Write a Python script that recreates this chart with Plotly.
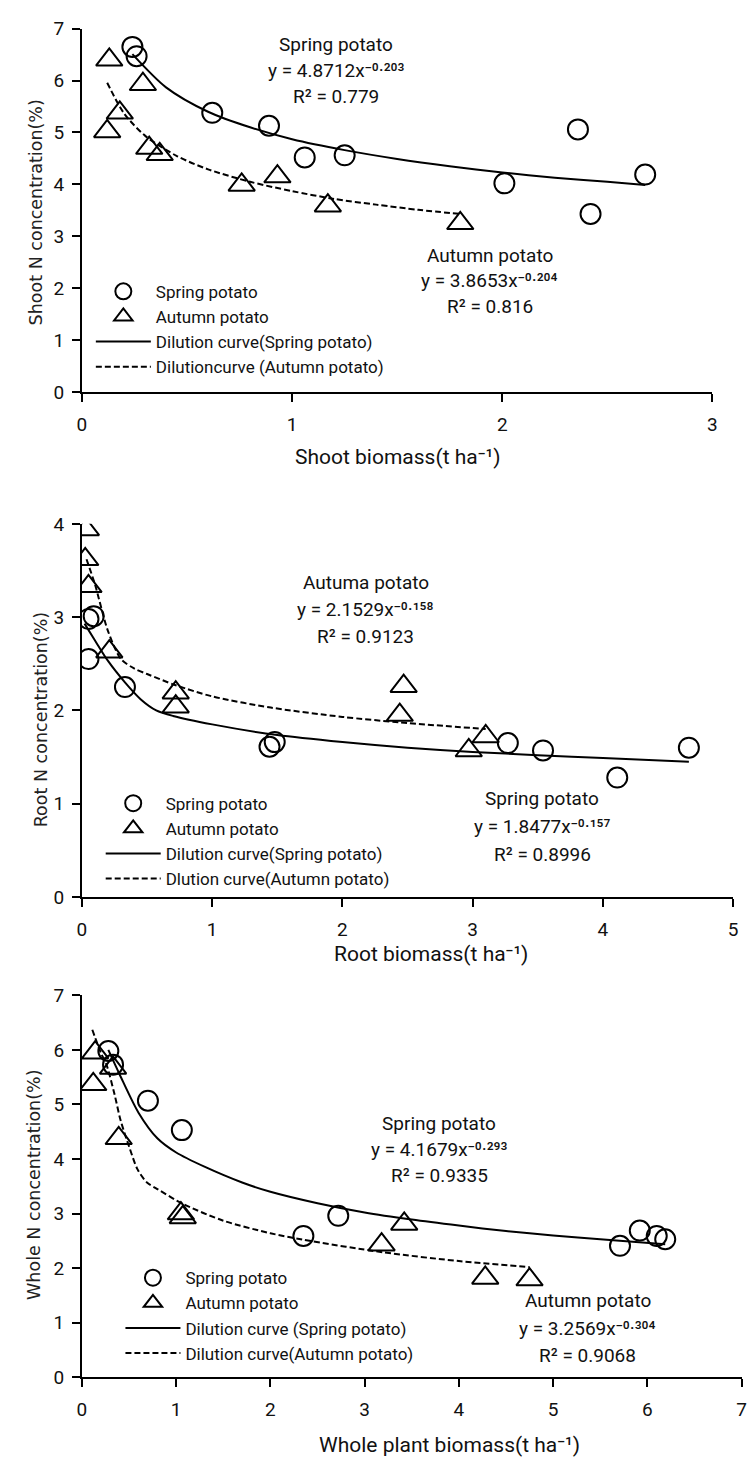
import plotly.graph_objects as go

W, H = 750, 1470

# ---------------- data ----------------
# Panel 1: shoot
shoot_spring_x = [0.24, 0.26, 0.62, 0.89, 1.06, 1.25, 2.36, 2.01, 2.42, 2.68]
shoot_spring_y = [6.65, 6.47, 5.38, 5.13, 4.52, 4.56, 5.06, 4.02, 3.43, 4.19]
shoot_autumn_x = [0.13, 0.29, 0.18, 0.12, 0.32, 0.37, 0.76, 0.93, 1.17, 1.80]
shoot_autumn_y = [6.40, 5.93, 5.38, 5.02, 4.70, 4.58, 3.99, 4.15, 3.59, 3.25]
shoot_fit_spring_x = [0.24, 0.4, 0.6, 0.8, 1.0, 1.25, 1.5, 1.75, 2.0, 2.25, 2.5, 2.68]
shoot_fit_spring_y = [6.51, 5.87, 5.40, 5.10, 4.87, 4.66, 4.49, 4.35, 4.23, 4.13, 4.05, 3.99]
shoot_fit_autumn_x = [0.12, 0.2, 0.3, 0.45, 0.6, 0.8, 1.0, 1.2, 1.4, 1.6, 1.8]
shoot_fit_autumn_y = [5.96, 5.37, 4.94, 4.55, 4.29, 4.05, 3.87, 3.72, 3.61, 3.51, 3.43]

# Panel 2: root
root_spring_x = [0.05, 0.05, 0.09, 0.33, 1.44, 1.48, 3.27, 3.54, 4.11, 4.66]
root_spring_y = [2.55, 2.98, 3.01, 2.25, 1.61, 1.66, 1.65, 1.57, 1.28, 1.60]
root_autumn_x = [0.03, 0.025, 0.05, 0.21, 0.72, 0.72, 2.47, 2.44, 2.97, 3.10]
root_autumn_y = [3.94, 3.62, 3.33, 2.63, 2.19, 2.04, 2.26, 1.95, 1.57, 1.72]
root_fit_spring_x = [0.02, 0.1, 0.2, 0.33, 0.45, 0.57, 0.7, 1.0, 1.5, 2.0, 2.5, 3.0, 3.5, 4.0, 4.66]
root_fit_spring_y = [2.93, 2.75, 2.53, 2.30, 2.12, 2.00, 1.94, 1.85, 1.735, 1.66, 1.60, 1.555, 1.52, 1.49, 1.45]
root_fit_autumn_x = [0.035, 0.1, 0.2, 0.3, 0.4, 0.5, 0.72, 1.0, 1.45, 2.0, 2.45, 3.1]
root_fit_autumn_y = [3.62, 3.35, 2.85, 2.55, 2.45, 2.39, 2.27, 2.15, 2.03, 1.93, 1.87, 1.80]

# Panel 3: whole plant
whole_spring_x = [0.28, 0.33, 0.70, 1.06, 2.35, 2.72, 5.71, 5.92, 6.10, 6.19]
whole_spring_y = [5.98, 5.73, 5.07, 4.53, 2.59, 2.96, 2.41, 2.69, 2.59, 2.53]
whole_autumn_x = [0.12, 0.14, 0.33, 0.39, 1.05, 1.07, 3.18, 3.42, 4.28, 4.75]
whole_autumn_y = [5.37, 5.95, 5.67, 4.38, 3.00, 2.93, 2.43, 2.81, 1.82, 1.79]
whole_fit_spring_x = [0.28, 0.4, 0.6, 0.8, 1.0, 1.3, 1.7, 2.0, 2.5, 3.0, 3.5, 4.0, 4.5, 5.0, 5.5, 6.19]
whole_fit_spring_y = [6.00, 5.55, 4.85, 4.38, 4.12, 3.86, 3.57, 3.40, 3.19, 3.02, 2.89, 2.78, 2.68, 2.60, 2.53, 2.44]
whole_fit_autumn_x = [0.11, 0.2, 0.26, 0.345, 0.41, 0.5, 0.59, 0.69, 0.8, 1.07, 1.5, 2.0, 2.35, 3.2, 4.0, 4.75]
whole_fit_autumn_y = [6.37, 5.95, 5.73, 5.19, 4.71, 4.23, 3.81, 3.57, 3.45, 3.18, 2.87, 2.64, 2.52, 2.29, 2.13, 2.02]

x_ticks = [[0, 1, 2, 3], [0, 1, 2, 3, 4, 5], [0, 1, 2, 3, 4, 5, 6, 7]]
y_ticks = [[0, 1, 2, 3, 4, 5, 6, 7], [0, 1, 2, 3, 4], [0, 1, 2, 3, 4, 5, 6, 7]]

x_titles = ["Shoot biomass(t ha\u207b\u00b9)", "Root biomass(t ha\u207b\u00b9)",
            "Whole plant biomass(t ha\u207b\u00b9)"]
y_titles = ["Shoot N concentration(%)", "Root N concentration(%)", "Whole N concentration(%)"]

legend_names = [
    ["Spring potato", "Autumn potato", "Dilution curve(Spring potato)", "Dilutioncurve (Autumn potato)"],
    ["Spring potato", "Autumn potato", "Dilution curve(Spring potato)", "Dlution curve(Autumn potato)"],
    ["Spring potato", "Autumn potato", "Dilution curve (Spring potato)", "Dilution curve(Autumn potato)"],
]

eq_labels = [
    [("Spring potato", "y = 4.8712x\u207b\u2070\u00b7\u00b2\u2070\u00b3", "R\u00b2 = 0.779", 1.21, 6.69),
     ("Autumn potato", "y = 3.8653x\u207b\u2070\u00b7\u00b2\u2070\u2074", "R\u00b2 = 0.816", 1.94, 2.63)],
    [("Autuma potato", "y = 2.1529x\u207b\u2070\u00b7\u00b9\u2075\u2078", "R\u00b2 = 0.9123", 2.18, 3.37),
     ("Spring potato", "y = 1.8477x\u207b\u2070\u00b7\u00b9\u2075\u2077", "R\u00b2 = 0.8996", 3.535, 1.05)],
    [("Spring potato", "y = 4.1679x\u207b\u2070\u00b7\u00b2\u2079\u00b3", "R\u00b2 = 0.9335", 3.79, 4.65),
     ("Autumn potato", "y = 3.2569x\u207b\u2070\u00b7\u00b3\u2070\u2074", "R\u00b2 = 0.9068", 5.37, 1.40)],
]
eq_line_gap = [(0.50, 0.49), (0.29, 0.295), (0.48, 0.50)]

panels = [
    (shoot_spring_x, shoot_spring_y, shoot_autumn_x, shoot_autumn_y,
     shoot_fit_spring_x, shoot_fit_spring_y, shoot_fit_autumn_x, shoot_fit_autumn_y),
    (root_spring_x, root_spring_y, root_autumn_x, root_autumn_y,
     root_fit_spring_x, root_fit_spring_y, root_fit_autumn_x, root_fit_autumn_y),
    (whole_spring_x, whole_spring_y, whole_autumn_x, whole_autumn_y,
     whole_fit_spring_x, whole_fit_spring_y, whole_fit_autumn_x, whole_fit_autumn_y),
]

# ---------------- layout geometry (pixels) ----------------
boxes = [(78, 717, 18, 387), (78, 738, 521, 900), (78, 746.5, 1000, 1388)]
ytitle_pos = [(31, 205), (36, 720), (30, 1193)]
xtitle_pos = [(398, 453), (432, 958), (450, 1457)]
legend_pos = [(87, 267), (97, 787), (117, 1269)]

TXT = "Roboto, Open Sans, sans-serif"
YT = "DejaVu Sans, Verdana, sans-serif"

fig = go.Figure()
layout = dict(width=W, height=H, margin=dict(l=0, r=0, t=0, b=0),
              paper_bgcolor="white", plot_bgcolor="white", showlegend=True)
annotations = []

for i, p in enumerate(panels):
    sx, sy, ax, ay, fsx, fsy, fax, fay = p
    xa = "x" if i == 0 else f"x{i+1}"
    ya = "y" if i == 0 else f"y{i+1}"
    lg = "legend" if i == 0 else f"legend{i+1}"
    names = legend_names[i]
    fig.add_trace(go.Scatter(x=sx, y=sy, mode="markers", name=names[0], xaxis=xa, yaxis=ya, legend=lg,
                             marker=dict(symbol="circle-open", size=20, color="black",
                                         line=dict(width=2, color="black"))))
    fig.add_trace(go.Scatter(x=ax, y=ay, mode="markers", name=names[1], xaxis=xa, yaxis=ya, legend=lg,
                             marker=dict(symbol="triangle-up-open", size=23, color="black",
                                         line=dict(width=2, color="black"))))
    fig.add_trace(go.Scatter(x=fsx, y=fsy, mode="lines", name=names[2], xaxis=xa, yaxis=ya, legend=lg,
                             line=dict(color="black", width=2, shape="spline", smoothing=0.8)))
    fig.add_trace(go.Scatter(x=fax, y=fay, mode="lines", name=names[3], xaxis=xa, yaxis=ya, legend=lg,
                             line=dict(color="black", width=2, dash="6px,3px", shape="spline", smoothing=0.8)))

    l, r, t, b = boxes[i]
    xk = "xaxis" if i == 0 else f"xaxis{i+1}"
    yk = "yaxis" if i == 0 else f"yaxis{i+1}"
    layout[xk] = dict(domain=[l / W, r / W], anchor=ya, range=[0, x_ticks[i][-1]], tickvals=x_ticks[i],
                      showline=True, linecolor="black", linewidth=2, ticks="outside", ticklen=8,
                      tickwidth=2, tickcolor="black", showgrid=False, zeroline=False,
                      ticklabelstandoff=6, tickfont=dict(family=TXT, size=19, color="#111"))
    layout[yk] = dict(domain=[1 - b / H, 1 - t / H], anchor=xa, range=[0, y_ticks[i][-1]], tickvals=y_ticks[i],
                      showline=True, linecolor="black", linewidth=2, ticks="outside", ticklen=8,
                      tickwidth=2, tickcolor="black", showgrid=False, zeroline=False,
                      ticklabelstandoff=4, tickfont=dict(family=TXT, size=19, color="#111"))

    tx, ty = ytitle_pos[i]
    annotations.append(dict(text=y_titles[i], xref="paper", yref="paper", x=tx / W, y=1 - ty / H,
                            textangle=-90, showarrow=False, xanchor="center", yanchor="middle",
                            font=dict(family=YT, size=17.5, color="#222")))
    tx, ty = xtitle_pos[i]
    annotations.append(dict(text=x_titles[i], xref="paper", yref="paper", x=tx / W, y=1 - ty / H,
                            showarrow=False, xanchor="center", yanchor="middle",
                            font=dict(family=TXT, size=21, color="#111")))
    gaps = eq_line_gap[i]
    for k, (t1, t2, t3, ex, ey) in enumerate(eq_labels[i]):
        g = gaps[k]
        for j, tt in enumerate((t1, t2, t3)):
            annotations.append(dict(text=tt, xref=xa, yref=ya, x=ex, y=ey - j * g, showarrow=False,
                                    xanchor="center", yanchor="middle",
                                    font=dict(family=TXT, size=19, color="#111")))

    lx, ly = legend_pos[i]
    layout[lg] = dict(x=lx / W, y=1 - ly / H, xanchor="left", yanchor="top", bgcolor="rgba(0,0,0,0)",
                      font=dict(family=TXT, size=17, color="#111"), itemwidth=55, tracegroupgap=0)

layout["annotations"] = annotations
fig.update_layout(**layout)
fig.write_html("out.html")
